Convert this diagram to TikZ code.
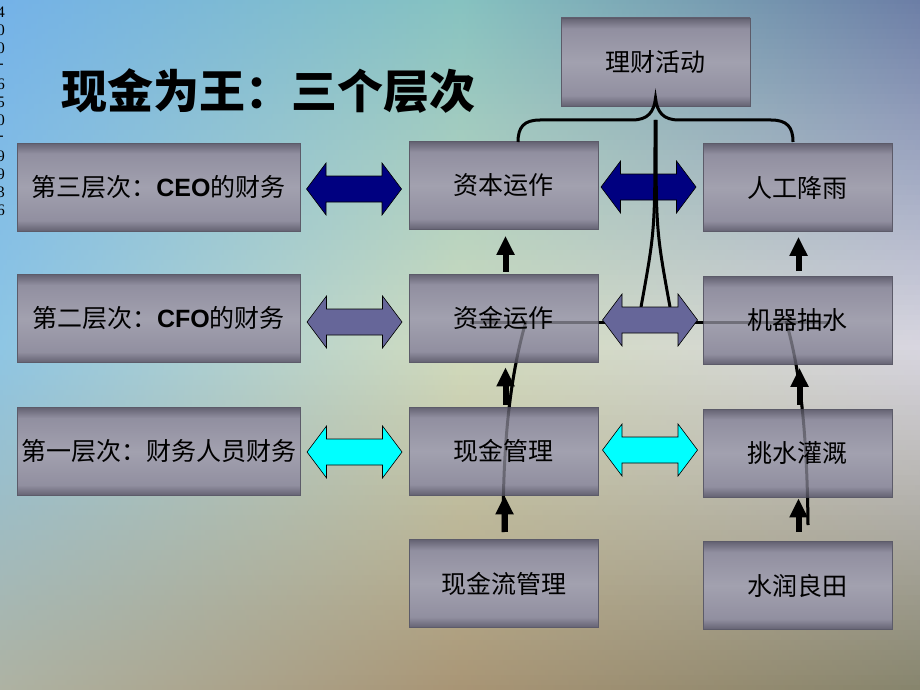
\documentclass[tikz,border=0pt]{standalone}
\usepackage{fontspec}
\setmainfont{Noto Sans CJK SC}
\newfontfamily\digitfont{Liberation Serif}
\newfontfamily\latinfont{Liberation Sans}
\usetikzlibrary{arrows.meta,calc}

% background (top / middle / bottom rows, left / centre / right)
\definecolor{tL}{HTML}{74B2E8}
\definecolor{tC}{HTML}{86C2C0}
\definecolor{tR}{HTML}{6C7EA6}
\definecolor{mL}{HTML}{8EC6E4}
\definecolor{mC}{HTML}{D2DCBE}
\definecolor{mR}{HTML}{D8D6E0}
\definecolor{bL}{HTML}{AEB2A2}
\definecolor{bC}{HTML}{A89474}
\definecolor{bR}{HTML}{86846C}

\definecolor{bxdark}{HTML}{646272}
\definecolor{bxmid}{HTML}{918FA0}
\definecolor{bxlight}{HTML}{A2A1AF}
\definecolor{bxline}{HTML}{5C5B69}
\definecolor{navyarr}{HTML}{000080}
\definecolor{slatearr}{HTML}{666699}
\definecolor{cyanarr}{HTML}{00FFFF}

\pgfdeclareverticalshading{boxshade}{100bp}{color(0bp)=(bxdark); color(25bp)=(bxdark);
  color(31bp)=(bxmid); color(50bp)=(bxlight); color(69bp)=(bxmid); color(75bp)=(bxdark);
  color(100bp)=(bxdark)}

\newcommand{\ts}{\fontsize{25}{25}\selectfont}
\newcommand{\darr}[2]{%
  \filldraw[blockarr, fill=#2] (#1) ++(-47.5,0) -- ++(19.5,-26) -- ++(0,13) -- ++(56,0)
    -- ++(0,-13) -- ++(19.5,26) -- ++(-19.5,26) -- ++(0,-13) -- ++(-56,0) -- ++(0,13) -- cycle;}

\tikzset{
  box/.style={rectangle, draw=bxline, line width=.6pt, shade, shading=boxshade,
    minimum width=189pt, minimum height=88pt, inner sep=0pt, font=\ts},
  widebox/.style={box, minimum width=283pt},
  blockarr/.style={draw=black, line width=.6pt, line join=miter},
  uparr/.style={line width=6pt, -{Triangle[width=17pt,length=19pt]}},
  wire/.style={line width=3pt},
}

\begin{document}
\begin{tikzpicture}[x=1pt,y=-1pt]
  \useasboundingbox (0,0) rectangle (920,690);

  % background
  \foreach \i in {0,...,68}{
    \pgfmathtruncatemacro{\p}{100*(\i+.5)/69}
    \colorlet{sL}{mL!\p!tL}\colorlet{sC}{mC!\p!tC}\colorlet{sR}{mR!\p!tR}
    \shade[left color=sL, right color=sR, middle color=sC] (0,{5*\i}) rectangle (920,{5*\i+5.8});
  }
  \foreach \i in {0,...,68}{
    \pgfmathtruncatemacro{\p}{100*(\i+.5)/69}
    \colorlet{sL}{bL!\p!mL}\colorlet{sC}{bC!\p!mC}\colorlet{sR}{bR!\p!mR}
    \shade[left color=sL, right color=sR, middle color=sC] (0,{345+5*\i}) rectangle (920,{345+5*\i+5.8});
  }

  % lines behind the boxes
  \coordinate (h1) at (470,322);
  \coordinate (h2) at (830,322);
  \draw[wire] (h1) -- (h2);
  \draw[wire] (503,532) .. controls (503,430) and (512,370) .. (526,321);
  \draw[wire] (808,525) .. controls (807,430) and (800,370) .. (786,321);

  % boxes
  \node[box]     (top) at (655.5, 62.0) {理财活动};
  \node[widebox] (l1)  at (158.5,187.0) {第三层次：{\latinfont\bfseries CEO}的财务};
  \node[widebox] (l2)  at (158.5,318.5) {第二层次：{\latinfont\bfseries CFO}的财务};
  \node[widebox] (l3)  at (158.5,451.5) {第一层次：财务人员财务};
  \node[box]     (m1)  at (503.5,185.5) {资本运作};
  \node[box]     (m2)  at (503.5,318.0) {资金运作};
  \node[box]     (m3)  at (503.5,451.0) {现金管理};
  \node[box]     (m4)  at (503.5,583.5) {现金流管理};
  \node[box]     (r1)  at (797.5,187.5) {人工降雨};
  \node[box]     (r2)  at (797.5,320.5) {机器抽水};
  \node[box]     (r3)  at (797.5,453.0) {挑水灌溉};
  \node[box]     (r4)  at (797.5,585.5) {水润良田};

  % the same lines seen through the boxes
  \draw[wire, opacity=.3] (h1) -- (h2);
  \draw[wire, opacity=.3] (503,532) .. controls (503,430) and (512,370) .. (526,321);
  \draw[wire, opacity=.3] (808,525) .. controls (807,430) and (800,370) .. (786,321);

  % up arrows
  \draw[uparr, shorten <=2pt, shorten >=6pt] ([xshift=2pt]m2.north) -- ([xshift=2pt]m1.south);
  \draw[uparr, shorten <=2pt, shorten >=5pt] ([xshift=2pt]m3.north) -- ([xshift=2pt]m2.south);
  \draw[uparr, shorten <=7pt]                ([xshift=1pt]m4.north) -- ([xshift=1pt]m3.south);
  \draw[uparr, shorten <=5pt, shorten >=5pt] ([xshift=1pt]r2.north) -- ([xshift=1pt]r1.south);
  \draw[uparr, shorten <=4pt, shorten >=3pt] ([xshift=2pt]r3.north) -- ([xshift=2pt]r2.south);
  \draw[uparr, shorten <=9pt, shorten >=1pt] ([xshift=1pt]r4.north) -- ([xshift=1pt]r3.south);

  % double arrows
  \coordinate (a1) at (354.0,189);
  \coordinate (a2) at (354.5,322);
  \coordinate (a3) at (354.5,452);
  \coordinate (a4) at (648.5,187);
  \coordinate (a5) at (650.0,320);
  \coordinate (a6) at (650.0,450);
  \darr{a1}{navyarr}
  \darr{a4}{navyarr}
  \draw[wire] (655,120) .. controls (655,230) .. (641,307);
  \draw[wire] (656,120) .. controls (656,230) .. (670,307);
  \darr{a2}{slatearr}
  \darr{a5}{slatearr}
  \darr{a3}{cyanarr}
  \darr{a6}{cyanarr}

  % brace under the top box
  \draw[wire] (518,142) .. controls (518,127) and (524,120) .. (540,120) -- (632,120)
    .. controls (648,120) and (654,112) .. (655.5,98) .. controls (657,112) and (663,120) .. (679,120)
    -- (771,120) .. controls (787,120) and (793,127) .. (793,142);

  % title
  \node[font=\bfseries\fontsize{46}{46}\selectfont] (title) at (268,91) {现金为王：三个层次};

  % digits on the left edge
  \foreach \c [count=\k] in {4,0,0,-,6,5,0,-,9,9,3,6}
    \node[font=\digitfont\fontsize{16}{16}\selectfont, inner sep=0pt] (d\k) at (1,{-6+18*\k}) {\c};
\end{tikzpicture}
\end{document}
